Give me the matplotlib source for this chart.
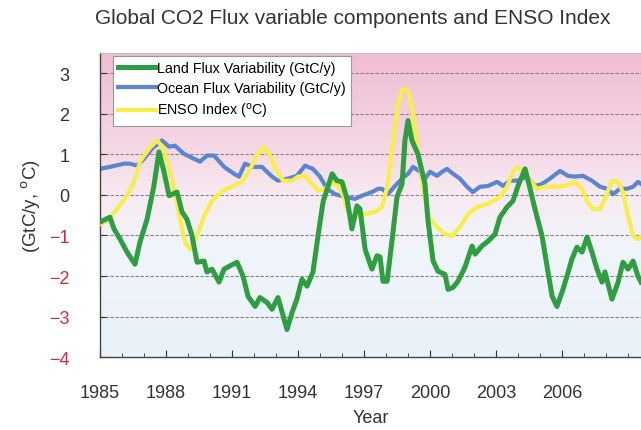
import matplotlib
matplotlib.use("Agg")
import matplotlib.pyplot as plt
import numpy as np
from matplotlib.colors import LinearSegmentedColormap

# values
land_years = [1985.00, 1985.45, 1985.64, 1985.91, 1986.23, 1986.59, 1986.82, 1987.14, 1987.45, 1987.68,
              1987.91, 1988.14, 1988.50, 1988.73, 1988.95, 1989.18, 1989.41, 1989.73, 1989.86, 1990.09,
              1990.41, 1990.64, 1990.91, 1991.23, 1991.50, 1991.73, 1992.05, 1992.27, 1992.59, 1992.82,
              1993.09, 1993.50, 1993.73, 1993.95, 1994.18, 1994.41, 1994.68, 1994.91, 1995.14, 1995.55,
              1995.77, 1996.00, 1996.23, 1996.45, 1996.68, 1996.82, 1997.05, 1997.36, 1997.59, 1997.73,
              1997.86, 1998.05, 1998.27, 1998.50, 1998.73, 1998.86, 1999.00, 1999.18, 1999.45, 1999.77,
              1999.91, 2000.14, 2000.36, 2000.68, 2000.82, 2001.05, 2001.27, 2001.59, 2001.91, 2002.05,
              2002.36, 2002.64, 2002.95, 2003.18, 2003.50, 2003.77, 2004.00, 2004.32, 2004.55, 2004.77,
              2005.09, 2005.32, 2005.55, 2005.77, 2006.00, 2006.23, 2006.45, 2006.68, 2006.91, 2007.14,
              2007.36, 2007.59, 2007.82, 2007.95, 2008.27, 2008.55, 2008.77, 2009.00, 2009.23, 2009.45,
              2009.59]
land_flux = [-0.67, -0.55, -0.84, -1.09, -1.41, -1.71, -1.16, -0.60, 0.22, 1.06,
             0.57, -0.02, 0.07, -0.42, -0.60, -1.00, -1.66, -1.63, -1.90, -1.83,
             -2.15, -1.83, -1.75, -1.66, -2.00, -2.50, -2.75, -2.53, -2.65, -2.82,
             -2.53, -3.32, -2.90, -2.57, -2.08, -2.25, -1.90, -1.01, -0.17, 0.52,
             0.35, 0.32, -0.10, -0.84, -0.27, -0.35, -1.34, -1.83, -1.50, -1.53,
             -2.13, -2.13, -1.14, -0.05, 0.27, 1.34, 1.83, 1.34, 1.01, 0.27,
             -0.64, -1.63, -1.88, -1.96, -2.33, -2.28, -2.13, -1.78, -1.26, -1.46,
             -1.26, -1.14, -0.97, -0.55, -0.30, -0.15, 0.22, 0.64, 0.15, -0.35,
             -1.01, -1.76, -2.50, -2.75, -2.40, -2.00, -1.58, -1.29, -1.41, -1.04,
             -1.41, -1.83, -2.15, -1.90, -2.57, -2.15, -1.66, -1.83, -1.63, -2.00,
             -2.15]

ocean_years = [1985.00, 1985.45, 1986.09, 1986.36, 1986.68, 1987.00, 1987.36, 1987.82, 1988.14, 1988.41,
               1988.82, 1989.27, 1989.55, 1989.86, 1990.18, 1990.64, 1991.09, 1991.32, 1991.59, 1991.95,
               1992.36, 1992.82, 1993.09, 1993.55, 1993.95, 1994.32, 1994.68, 1995.00, 1995.32, 1995.68,
               1996.14, 1996.59, 1996.91, 1997.36, 1997.64, 1997.82, 1998.09, 1998.41, 1998.73, 1999.00,
               1999.23, 1999.55, 1999.77, 2000.00, 2000.32, 2000.55, 2000.77, 2001.05, 2001.36, 2001.68,
               2001.95, 2002.27, 2002.64, 2003.05, 2003.32, 2003.64, 2004.00, 2004.41, 2004.77, 2005.09,
               2005.45, 2005.91, 2006.27, 2006.59, 2006.95, 2007.36, 2007.73, 2008.05, 2008.32, 2008.64,
               2008.95, 2009.23, 2009.45, 2009.59]
ocean_flux = [0.64, 0.69, 0.77, 0.77, 0.72, 0.89, 1.14, 1.34, 1.19, 1.21,
              1.01, 0.89, 0.82, 0.97, 0.97, 0.69, 0.52, 0.45, 0.77, 0.69,
              0.69, 0.45, 0.35, 0.40, 0.47, 0.72, 0.64, 0.45, 0.15, 0.02,
              -0.05, -0.10, -0.02, 0.07, 0.15, 0.15, 0.02, 0.22, 0.40, 0.52,
              0.69, 0.57, 0.40, 0.57, 0.47, 0.57, 0.64, 0.52, 0.40, 0.20,
              0.07, 0.20, 0.22, 0.32, 0.22, 0.35, 0.35, 0.45, 0.22, 0.27,
              0.40, 0.59, 0.47, 0.45, 0.47, 0.35, 0.20, 0.15, 0.02, 0.15,
              0.15, 0.20, 0.32, 0.27]

enso_years = [1985.00, 1985.32, 1985.77, 1986.23, 1986.55, 1986.82, 1987.23, 1987.59, 1987.91, 1988.14,
              1988.41, 1988.64, 1988.86, 1989.09, 1989.41, 1989.73, 1990.09, 1990.55, 1991.09, 1991.45,
              1991.82, 1992.14, 1992.41, 1992.73, 1993.05, 1993.32, 1993.73, 1994.00, 1994.32, 1994.64,
              1994.91, 1995.23, 1995.55, 1995.82, 1996.05, 1996.27, 1996.59, 1997.05, 1997.50, 1997.82,
              1998.09, 1998.32, 1998.55, 1998.77, 1999.00, 1999.23, 1999.45, 1999.68, 1999.91, 2000.32,
              2000.68, 2001.00, 2001.36, 2001.73, 2002.14, 2002.64, 2003.18, 2003.50, 2003.77, 2003.95,
              2004.23, 2004.55, 2004.86, 2005.23, 2005.68, 2006.14, 2006.59, 2006.91, 2007.14, 2007.41,
              2007.73, 2007.95, 2008.27, 2008.55, 2008.77, 2009.00, 2009.23, 2009.45, 2009.59]
enso_index = [-0.72, -0.64, -0.35, -0.02, 0.32, 0.82, 1.14, 1.34, 1.14, 0.64,
              0.07, -0.60, -1.16, -1.34, -1.01, -0.52, -0.15, 0.10, 0.22, 0.32,
              0.64, 0.97, 1.19, 0.97, 0.57, 0.35, 0.35, 0.45, 0.47, 0.27,
              0.10, 0.15, 0.32, 0.22, -0.02, -0.42, -0.52, -0.47, -0.42, -0.30,
              0.27, 1.34, 2.25, 2.62, 2.57, 2.00, 1.09, 0.20, -0.55, -0.79,
              -0.97, -1.01, -0.79, -0.47, -0.30, -0.22, -0.05, 0.20, 0.57, 0.69,
              0.59, 0.35, 0.15, 0.20, 0.20, 0.22, 0.32, 0.15, -0.17, -0.35,
              -0.35, -0.10, 0.35, 0.32, 0.07, -0.52, -1.01, -1.09, -1.04]

year_ticks = [1985, 1988, 1991, 1994, 1997, 2000, 2003, 2006]
value_ticks = [3, 2, 1, 0, -1, -2, -3, -4]

x_min, x_max = 1985, 2009.59
y_min, y_max = -4, 3.5

plt.rcParams['font.family'] = ['Liberation Sans', 'DejaVu Sans']

fig = plt.figure(figsize=(6.41, 4.31), dpi=100)
ax = fig.add_axes([0.156, 0.169, 0.844, 0.706])

# pink (top) to pale blue (bottom) background
bg_cmap = LinearSegmentedColormap.from_list("bg", [
    (0.00, (0.91, 0.95, 0.98)),
    (0.35, (0.94, 0.96, 0.98)),
    (0.53, (0.97, 0.92, 0.95)),
    (0.67, (0.96, 0.85, 0.90)),
    (1.00, (0.94, 0.74, 0.83)),
])
gradient = np.linspace(0, 1, 256).reshape(-1, 1)
ax.imshow(gradient, cmap=bg_cmap, aspect='auto', origin='lower',
          extent=[x_min, x_max, y_min, y_max], zorder=0)

for v in [3, 2, 1, 0, -1, -2, -3]:
    ax.axhline(v, color='#8a7f86', lw=0.8, ls=(0, (3, 1.5)), zorder=1)

ax.plot(land_years, land_flux, color='#2e9e40', lw=3.6, label='Land Flux Variability (GtC/y)', zorder=4)
ax.plot(ocean_years, ocean_flux, color='#5a86d0', lw=3.0, label='Ocean Flux Variability (GtC/y)', zorder=2)
ax.plot(enso_years, enso_index, color='#f7ee4a', lw=3.0, label='ENSO Index ($^{\\rm o}$C)', zorder=3)

ax.set_xlim(x_min, x_max)
ax.set_ylim(y_min, y_max)

ax.set_xticks(year_ticks)
ax.set_xticks(np.arange(1986, 2010), minor=True)
ax.set_yticks(value_ticks)
ax.tick_params(axis='both', which='both', direction='in', labelsize=13, colors='#333333')
ax.tick_params(axis='x', which='major', length=5, pad=19)
ax.tick_params(axis='x', which='minor', length=3)
ax.tick_params(axis='y', which='major', length=4, pad=22)
for label, v in zip(ax.get_yticklabels(), value_ticks):
    label.set_color('#d42a40' if v < 0 else '#333333')

for side in ['left', 'bottom']:
    ax.spines[side].set_color('#444444')
    ax.spines[side].set_linewidth(1.0)
ax.spines['top'].set_color('#bbbbbb')
ax.spines['top'].set_linewidth(0.6)
ax.spines['right'].set_visible(False)

ax.set_xlabel('Year', fontsize=13, color='#333333', labelpad=6)
ax.set_ylabel('(GtC/y, $^{\\rm o}$C)', fontsize=13.5, color='#333333', labelpad=4)
fig.text(0.551, 0.957, 'Global CO2 Flux variable components and ENSO Index',
         ha='center', va='center', fontsize=15, color='#333333')

leg = ax.legend(loc='upper left', bbox_to_anchor=(0.018, 1.0), fontsize=10.3, frameon=True,
                fancybox=False, framealpha=1, edgecolor='#999999', handlelength=2.6,
                handletextpad=0.1, borderaxespad=0.2, labelspacing=0.42, borderpad=0.4)
leg.get_frame().set_linewidth(0.8)

fig.savefig('out.png', dpi=100)
